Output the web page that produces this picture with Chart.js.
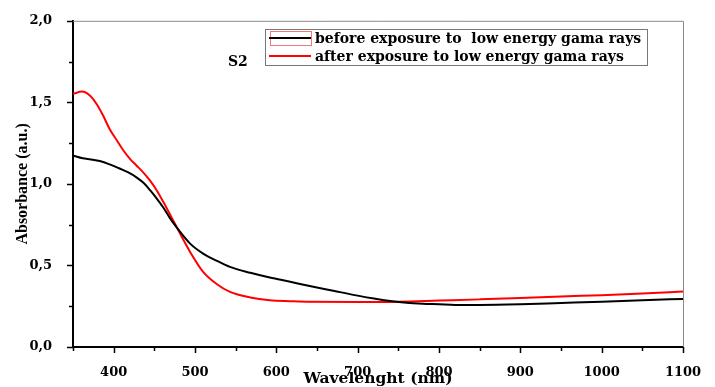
<!DOCTYPE html>
<html>
<head>
<meta charset="utf-8">
<script src="https://cdn.jsdelivr.net/npm/chart.js@4.4.0/dist/chart.umd.min.js"></script>
<style>
  html, body { margin: 0; padding: 0; background: #fff; }
  #wrap { position: relative; width: 715px; height: 387px; }
</style>
</head>
<body>
<div id="wrap"><canvas id="myChart"></canvas></div>
<script>
// values
const wlBefore = [350, 362, 372, 383, 395, 408, 418, 428, 437, 445, 453, 461, 469, 477,
  494, 510, 527, 543, 568, 592, 617, 641, 670, 700, 720, 740, 760, 780, 800, 820, 850,
  900, 950, 1000, 1050, 1100];
const absBefore = [1.174, 1.157, 1.15, 1.14, 1.12, 1.093, 1.07, 1.04, 1.005, 0.96, 0.91,
  0.855, 0.792, 0.736, 0.634, 0.573, 0.528, 0.491, 0.455, 0.426, 0.4, 0.374, 0.345, 0.315,
  0.297, 0.282, 0.271, 0.265, 0.262, 0.258, 0.258, 0.262, 0.27, 0.278, 0.287, 0.295];

const wlAfter = [350, 361, 371, 379, 387, 395, 404, 412, 420, 428, 436, 445, 453, 461, 469,
  477, 494, 510, 527, 543, 568, 592, 617, 641, 700, 750, 800, 850, 900, 950, 1000, 1050,
  1100];
const absAfter = [1.552, 1.566, 1.541, 1.49, 1.419, 1.337, 1.266, 1.205, 1.154, 1.113, 1.072,
  1.018, 0.96, 0.89, 0.815, 0.74, 0.583, 0.461, 0.385, 0.338, 0.304, 0.287, 0.281, 0.277,
  0.276, 0.278, 0.285, 0.292, 0.3, 0.31, 0.318, 0.328, 0.34];

const seriesLabels = [
  "before exposure to  low energy gama rays",
  "after exposure to low energy gama rays",
];
const seriesColors = ["#000000", "#ff0000"];

const xTickLabels = [400, 500, 600, 700, 800, 900, 1000, 1100];
const yTickLabels = [0, 0.5, 1, 1.5, 2];

const sampleName = "S2";

function toPoints(xs, ys) {
  return xs.map((v, i) => ({ x: v, y: ys[i] }));
}

const serif = "'DejaVu Serif', 'Liberation Serif', serif";

// frame, minor/major tick marks, legend box and sample label
const decorPlugin = {
  id: "decor",
  afterDraw(chart) {
    const { ctx, chartArea: a } = chart;
    const xs = chart.scales.x;
    const ys = chart.scales.y;
    ctx.save();

    ctx.strokeStyle = "#8a8a8a";
    ctx.lineWidth = 1;
    ctx.beginPath();
    ctx.moveTo(a.left, a.top + 0.5);
    ctx.lineTo(a.right + 0.5, a.top + 0.5);
    ctx.lineTo(a.right + 0.5, a.bottom);
    ctx.stroke();

    ctx.strokeStyle = "#000";
    ctx.lineWidth = 1.5;
    ctx.beginPath();
    xs.ticks.forEach((t) => {
      const px = Math.round(xs.getPixelForValue(t.value)) + 0.5;
      const len = xTickLabels.includes(t.value) ? 6 : 4;
      ctx.moveTo(px, a.bottom);
      ctx.lineTo(px, a.bottom + len);
    });
    ys.ticks.forEach((t) => {
      const py = Math.round(ys.getPixelForValue(t.value)) + 0.5;
      const len = yTickLabels.includes(t.value) ? 6 : 4;
      ctx.moveTo(a.left, py);
      ctx.lineTo(a.left - len, py);
    });
    ctx.stroke();

    // legend
    const bx = 265, by = 29, bw = 382, bh = 36;
    ctx.strokeStyle = "#777";
    ctx.lineWidth = 1;
    ctx.strokeRect(bx + 0.5, by + 0.5, bw, bh);
    ctx.font = "bold 14px " + serif;
    ctx.textBaseline = "middle";
    ctx.fillStyle = "#000";
    chart.data.datasets.forEach((ds, i) => {
      const ly = by + 9 + i * 18;
      if (i === 0) {
        ctx.strokeStyle = "#f07878";
        ctx.lineWidth = 1;
        ctx.strokeRect(270.5, ly - 6.5, 41, 14);
      }
      ctx.strokeStyle = ds.borderColor;
      ctx.lineWidth = 2;
      ctx.beginPath();
      ctx.moveTo(269, ly);
      ctx.lineTo(311, ly);
      ctx.stroke();
      ctx.fillText(ds.label, 315, ly + 1);
    });

    ctx.font = "bold 14px " + serif;
    ctx.fillText(sampleName, 228, 62);
    ctx.restore();
  },
};

const ctx = document.getElementById("myChart");
new Chart(ctx, {
  type: "line",
  data: {
    datasets: [
      {
        label: seriesLabels[0],
        data: toPoints(wlBefore, absBefore),
        borderColor: seriesColors[0],
        borderWidth: 2,
        pointRadius: 0,
        cubicInterpolationMode: "monotone",
      },
      {
        label: seriesLabels[1],
        data: toPoints(wlAfter, absAfter),
        borderColor: seriesColors[1],
        borderWidth: 2,
        pointRadius: 0,
        cubicInterpolationMode: "monotone",
      },
    ],
  },
  options: {
    responsive: true,
    maintainAspectRatio: false,
    animation: false,
    devicePixelRatio: 1,
    layout: {
      padding: { top: 20, right: 32, left: 0, bottom: 0 },
    },
    plugins: {
      legend: { display: false },
      tooltip: { enabled: false },
    },
    scales: {
      x: {
        type: "linear",
        min: 350,
        max: 1100,
        afterFit: (scale) => {
          scale.height = 40;
        },
        grid: { display: false },
        border: { display: true, color: "#000", width: 2 },
        ticks: {
          stepSize: 50,
          autoSkip: false,
          maxRotation: 0,
          padding: 10,
          color: "#000",
          font: { family: serif, size: 13, weight: "bold" },
          callback: (v) => (xTickLabels.includes(v) ? String(v) : ""),
        },
        title: {
          display: true,
          text: "Wavelenght (nm)",
          color: "#000",
          padding: { top: 0, bottom: 0 },
          font: { family: serif, size: 15.5, weight: "bold", lineHeight: 1 },
        },
      },
      y: {
        min: 0,
        max: 2,
        afterFit: (scale) => {
          scale.width = 73;
        },
        grid: { display: false },
        border: { display: true, color: "#000", width: 2 },
        ticks: {
          stepSize: 0.25,
          autoSkip: false,
          padding: 13,
          color: "#000",
          font: { family: serif, size: 13, weight: "bold" },
          callback: (v) =>
            yTickLabels.includes(v) ? v.toFixed(1).replace(".", ",") : "",
        },
        title: {
          display: true,
          text: "Absorbance (a.u.)",
          color: "#000",
          padding: { top: 15, bottom: 0 },
          font: { family: "'Liberation Serif', serif", size: 16, weight: "bold", lineHeight: 1 },
        },
      },
    },
  },
  plugins: [decorPlugin],
});
</script>
</body>
</html>
